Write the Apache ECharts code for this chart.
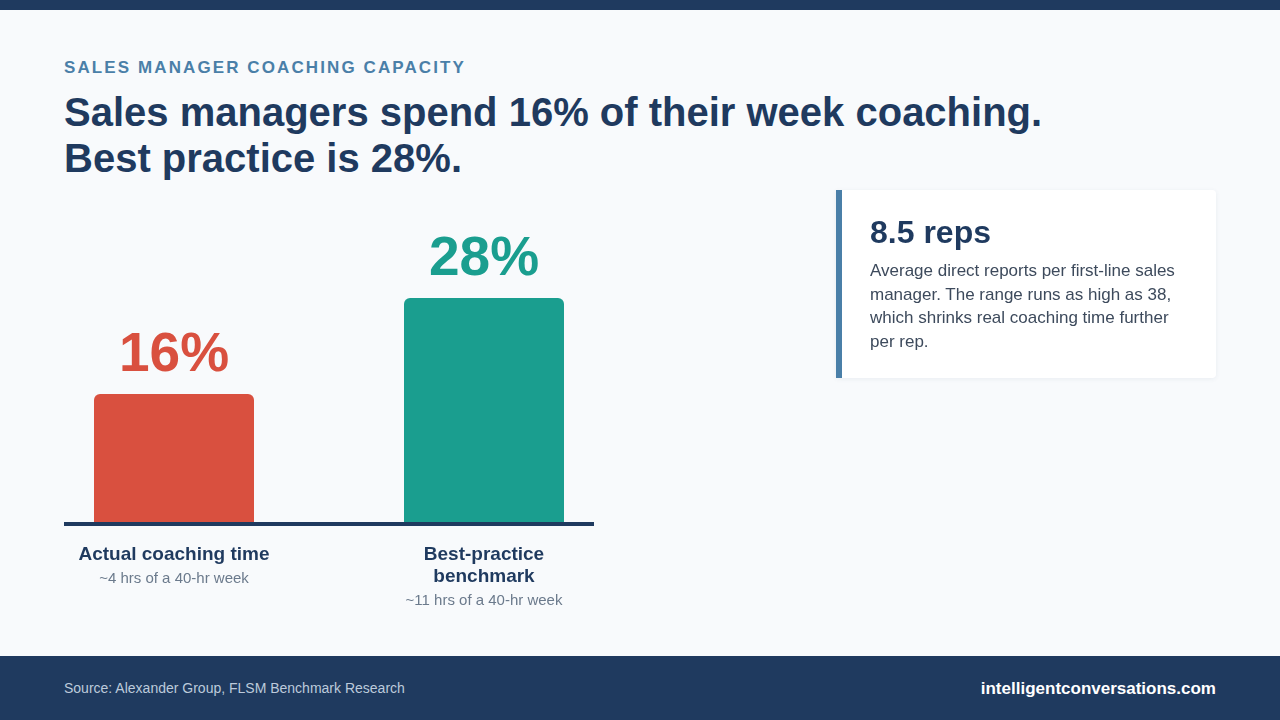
<!DOCTYPE html>
<html>
<head>
<meta charset="utf-8">
<script src="https://cdn.jsdelivr.net/npm/echarts@6/dist/echarts.min.js"></script>
<style>
  html, body { margin: 0; padding: 0; }
  body { width: 1280px; height: 720px; background: #f8fafc; position: relative; overflow: hidden;
         font-family: "Liberation Sans", Arial, sans-serif; }
  #topbar { position: absolute; left: 0; top: 0; width: 1280px; height: 10px; background: #1f3a5f; }
  #eyebrow { position: absolute; left: 64px; top: 58px; font-size: 17px; line-height: 20px; font-weight: 700;
             letter-spacing: 2.1px; color: #4a7fa8; }
  #headline { position: absolute; left: 64px; top: 89px; font-size: 40px; line-height: 46px; font-weight: 700;
              color: #1f3a5f; }
  #chart { position: absolute; left: 0; top: 0; width: 1280px; height: 720px; }
  #card { position: absolute; left: 836px; top: 190px; width: 380px; height: 188px; background: #ffffff;
          border-left: 6px solid #4a7fa8; box-sizing: border-box; border-radius: 0 4px 4px 0;
          box-shadow: 0 1px 5px rgba(30,58,95,0.07); }
  #card .big { position: absolute; left: 28px; top: 23px; font-size: 32px; line-height: 38px; font-weight: 700; color: #1f3a5f; }
  #card .body { position: absolute; left: 28px; top: 69px; width: 318px; font-size: 17px; line-height: 23.7px; color: #3d4a5c; }
  #footer { position: absolute; left: 0; top: 656px; width: 1280px; height: 64px; background: #1f3a5f; }
  #source { position: absolute; left: 64px; top: 22px; font-size: 14px; line-height: 20px; color: #bccadb; }
  #site { position: absolute; right: 64px; top: 22px; font-size: 17px; line-height: 21px; font-weight: 700; color: #ffffff; }
</style>
</head>
<body>
<div id="topbar"></div>
<div id="eyebrow">SALES MANAGER COACHING CAPACITY</div>
<div id="headline">Sales managers spend 16% of their week coaching.<br>Best practice is 28%.</div>
<div id="chart"></div>
<div id="card">
  <div class="big">8.5 reps</div>
  <div class="body">Average direct reports per first-line sales manager. The range runs as high as 38, which shrinks real coaching time further per rep.</div>
</div>
<div id="footer">
  <div id="source">Source: Alexander Group, FLSM Benchmark Research</div>
  <div id="site">intelligentconversations.com</div>
</div>
<script>
const categories = ['Actual coaching time', 'Best-practice\nbenchmark'];
const subLabels = ['~4 hrs of a 40-hr week', '~11 hrs of a 40-hr week'];
const values = [16, 28];
const barColors = ['#d9503f', '#1a9e8f'];

const chart = echarts.init(document.getElementById('chart'), null, { renderer: 'canvas' });

chart.setOption({
  animation: false,
  grid: { left: 19, right: 641, top: 242, bottom: 198 },
  xAxis: {
    type: 'category',
    data: categories,
    axisLine: { show: false },
    axisTick: { show: false },
    axisLabel: {
      margin: 22,
      interval: 0,
      formatter: function (val, idx) {
        const lines = val.split('\n').map(l => '{t|' + l + '}').join('\n');
        return lines + '\n{s|' + subLabels[idx] + '}';
      },
      rich: {
        t: { fontFamily: 'Liberation Sans', fontSize: 19, fontWeight: 700, color: '#1f3a5f', lineHeight: 22, align: 'center' },
        s: { fontFamily: 'Liberation Sans', fontSize: 15, color: '#6b7a8c', lineHeight: 26, align: 'center' }
      }
    }
  },
  yAxis: {
    type: 'value', min: 0, max: 35, show: false, splitLine: { show: false }
  },
  series: [{
    type: 'bar',
    barWidth: 160,
    data: values.map((v, i) => ({
      value: v,
      itemStyle: { color: barColors[i], borderRadius: [6, 6, 0, 0] },
      label: { color: barColors[i] }
    })),
    label: {
      show: true,
      position: 'top',
      distance: 11,
      formatter: '{c}%',
      fontFamily: 'Liberation Sans',
      fontSize: 55,
      fontWeight: 700,
      lineHeight: 55
    }
  }],
  graphic: [{
    type: 'rect',
    shape: { x: 64, y: 522, width: 530, height: 4 },
    style: { fill: '#1f3a5f' },
    z: 10
  }]
});
</script>
</body>
</html>
